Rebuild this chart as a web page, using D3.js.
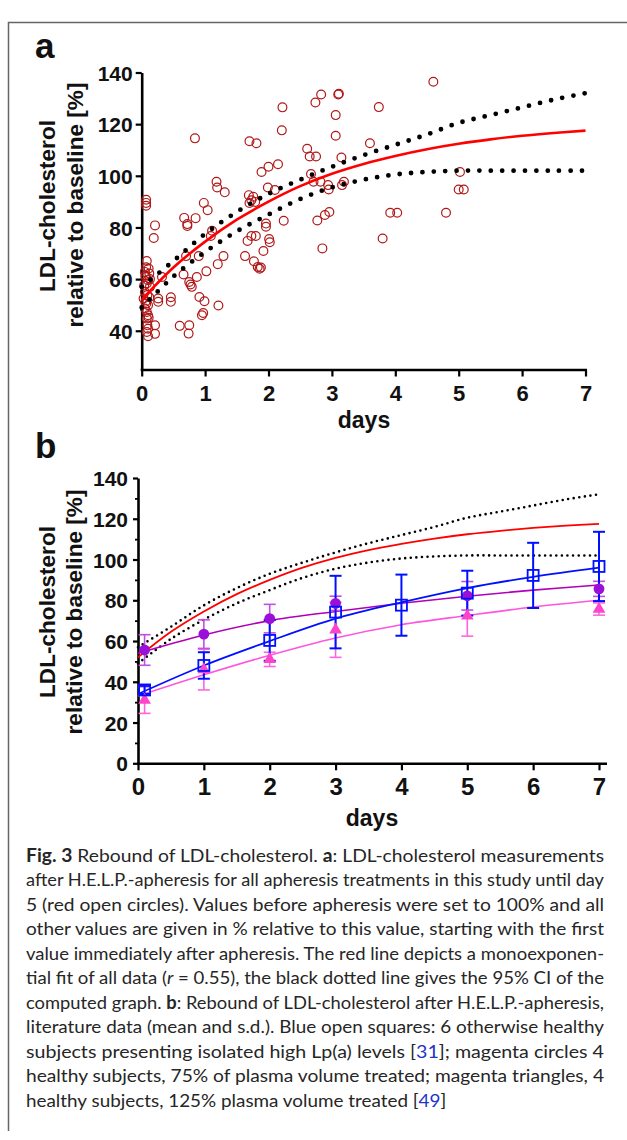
<!DOCTYPE html>
<html><head><meta charset="utf-8">
<script src="https://cdn.jsdelivr.net/npm/d3@7"></script>
<style>body{margin:0;background:#fff}svg{display:block}</style>
</head><body>
<script>
// ---------- DATA ----------
const scatterDays = [0.07,0.07,0.07,0.08,0.07,0.11,0.05,0.12,0.06,0.10,0.08,0.13,0.05,0.09,0.03,0.06,0.10,0.05,0.08,0.10,0.08,0.09,0.10,0.08,0.10,0.04,0.12,0.07,0.11,0.06,0.13,
0.21,0.19,0.21,0.21,0.26,0.26,0.32,0.46,0.46,0.60,0.66,0.70,0.67,0.72,0.72,0.85,0.75,0.77,0.79,0.75,0.74,0.84,0.87,0.90,0.91,0.98,1.04,0.99,0.97,0.95,1.02,1.11,1.09,1.18,1.19,1.31,1.21,1.20,1.29,
1.70,1.81,1.69,1.76,1.79,1.70,1.73,1.67,1.73,1.80,1.63,1.77,1.83,1.86,1.88,1.89,2.00,1.99,2.10,2.15,2.22,2.21,1.96,1.96,2.24,2.01,2.02,1.92,
2.83,2.74,3.10,3.11,3.06,3.06,3.15,2.61,2.65,2.75,2.67,2.71,2.82,2.94,2.95,3.16,3.19,2.77,2.89,2.96,2.85,
4.60,3.74,3.60,3.92,4.03,4.80,3.80,5.02,5.00,5.08];
const scatterValues = [90.7,89.5,88.4,67,64.6,64.1,62.8,62.2,60.8,59.6,58.3,57,55,53.8,52.5,51.2,49.9,48.6,47.3,46,44.7,42.1,40.8,39.5,37.9,57.5,53,50.5,45,61.5,60,
80.8,75.9,42.1,38.8,52.5,51.2,60.8,53,51.2,41.9,61.8,68.9,83.7,81.3,80.6,83.6,58.9,57.9,57,42.1,38.9,114.5,60.8,68.9,53.1,89.5,86.7,51.4,46.9,46,63,78.7,76.7,97.7,95.5,93.6,49.8,65.8,68.9,
113.4,112.6,92.5,91.9,89.9,89.5,90.5,74.8,76.7,76.7,68.9,66.9,64.7,64,64.5,101.5,103.5,95.5,94.5,104.5,126.5,117.6,81.5,80.3,82.6,75.5,74.3,70.9,
131.5,128.4,131.5,131.8,123.5,115.5,107.1,110.5,107.5,107.5,100.7,97.7,97.7,96.4,94.7,96.4,97.7,82.7,84.8,86,71.9,
136.4,126.6,112.6,85.7,85.7,85.7,75.7,101.5,94.7,94.7];

// monoexponential fit and 95% CI
const fitDays  = [0,0.5,1,1.5,2,2.5,3,3.5,4,4.5,5,5.5,6,6.5,7];
const fitRed   = [52,64.5,74.5,83,90,96,100.8,104.6,107.7,110.3,112.4,114.1,115.5,116.6,117.5];
const fitUpper = [57,67,77.5,86,93,98.5,103.5,108,112,116,120.5,123.5,126.5,129.5,132];
const fitLower = [49,61,70.5,78.5,85,91,95.5,98.5,100.5,101.5,102,102,102,102,102];

// panel b literature data
const blueDays = [0.1,1,2,3,4,5,6,7];
const blueMean = [36,48,60.3,74.2,77.6,83.5,92.2,96.6];
const blueSD   = [2,6.5,10,17.8,15,11,16,17];
const circleDays = [0.1,1,2,3,5,7];
const circleMean = [55.6,63.4,71,78.5,82.2,85.6];
const circleSD   = [7.5,7,7,3.5,7,3.7];
const triDays = [0.1,1,2,3,5,7];
const triMean = [31,46,51,65.5,72.4,75.7];
const triSD   = [6.5,10,3.5,13.5,10,3];
const curveDays   = [0,1,2,3,4,5,6,7];
const blueCurve   = [34,48,60,71,79,86,91.5,96];
const circleCurve = [54,63,70,74.5,78.5,82,85,87.5];
const triCurve    = [33,43.4,53,61.5,68,72.5,76.7,80];

const xTicks  = [0,1,2,3,4,5,6,7];
const yTicksA = [40,60,80,100,120,140];
const yTicksB = [0,20,40,60,80,100,120,140];
const yMinorB = [10,30,50,70,90,110,130];

const captionLines = [
  [["Fig. 3","b"],[" Rebound of LDL-cholesterol. "],["a","b"],[": LDL-cholesterol measurements"]],
  [["after H.E.L.P.-apheresis for all apheresis treatments in this study until day"]],
  [["5 (red open circles). Values before apheresis were set to 100% and all"]],
  [["other values are given in % relative to this value, starting with the first"]],
  [["value immediately after apheresis. The red line depicts a monoexponen-"]],
  [["tial fit of all data ("],["r","i"],[" = 0.55), the black dotted line gives the 95% CI of the"]],
  [["computed graph. "],["b","b"],[": Rebound of LDL-cholesterol after H.E.L.P.-apheresis,"]],
  [["literature data (mean and s.d.). Blue open squares: 6 otherwise healthy"]],
  [["subjects presenting isolated high Lp(a) levels ["],["31","l"],["]; magenta circles 4"]],
  [["healthy subjects, 75% of plasma volume treated; magenta triangles, 4"]],
  [["healthy subjects, 125% plasma volume treated ["],["49","l"],["]"]]
];

// ---------- DRAW ----------
const W = 627, H = 1140;
const svg = d3.select("body").append("svg").attr("width", W).attr("height", H);
const FONT = "'Liberation Sans', Arial, Helvetica, sans-serif";

// frame
svg.append("path").attr("d", "M8.5,1131 V22.5 H627").attr("fill","none").attr("stroke","#666").attr("stroke-width",1.5);

function styleAxis(g, fs) {
  g.selectAll("path.domain").attr("stroke","#000").attr("stroke-width",2.6);
  g.selectAll(".tick line").attr("stroke","#000").attr("stroke-width",2.2);
  g.selectAll(".tick text").attr("fill","#111").attr("font-family",FONT).attr("font-weight","bold").attr("font-size",fs);
}
function label(x, y, txt, fs, rot) {
  return svg.append("text").attr("transform",`translate(${x},${y})` + (rot ? " rotate(-90)" : "")).attr("text-anchor","middle")
    .attr("font-family",FONT).attr("font-weight","bold").attr("font-size",fs).attr("fill","#111").text(txt);
}

// ===== Panel a =====
const xa = d3.scaleLinear().domain([0,7]).range([141.7,585.5]);
const ya = d3.scaleLinear().domain([25,140]).range([369.5,72.5]);

svg.append("text").attr("x",35).attr("y",58).text("a").attr("font-family",FONT).attr("font-weight","bold").attr("font-size",35).attr("fill","#111");

const gxa = svg.append("g").attr("transform",`translate(0,${ya(25)})`)
  .call(d3.axisBottom(xa).tickValues(xTicks).tickSize(7).tickSizeOuter(0).tickPadding(9).tickFormat(d3.format("d")));
styleAxis(gxa, 22);
gxa.select("path.domain").attr("d", `M${xa(0)-1},0.5H587`);
const gya = svg.append("g").attr("transform",`translate(${xa(0)},0)`)
  .call(d3.axisLeft(ya).tickValues(yTicksA).tickSize(6).tickSizeOuter(0).tickPadding(3));
styleAxis(gya, 21);
gya.selectAll(".tick text").attr("dy","0.36em");

label(55, 206, "LDL-cholesterol", 22.6, true);
label(83, 205, "relative to baseline [%]", 22.6, true);
label(364, 428, "days", 23, false);

// scatter
svg.append("g").selectAll("circle").data(d3.range(scatterDays.length)).join("circle")
  .attr("cx", i => xa(scatterDays[i])).attr("cy", i => ya(scatterValues[i])).attr("r",4.4)
  .attr("fill","none").attr("stroke","#b01818").attr("stroke-width",1.2);

const lineA = d3.line().curve(d3.curveCatmullRom).x(i => xa(fitDays[i]));
[fitUpper, fitLower].forEach(arr => {
  svg.append("path").attr("d", lineA.y(i => ya(arr[i]))(d3.range(fitDays.length)))
    .attr("fill","none").attr("stroke","#000").attr("stroke-width",4.8).attr("stroke-linecap","round").attr("stroke-dasharray","0 11.4");
});
svg.append("path").attr("d", lineA.y(i => ya(fitRed[i]))(d3.range(fitDays.length)))
  .attr("fill","none").attr("stroke","#ff0000").attr("stroke-width",2.6);

// ===== Panel b =====
const xb = d3.scaleLinear().domain([0,7]).range([138,599]);
const yb = d3.scaleLinear().domain([0,140]).range([763.3,478]);

svg.append("text").attr("x",35).attr("y",458).text("b").attr("font-family",FONT).attr("font-weight","bold").attr("font-size",35).attr("fill","#111");

const gxb = svg.append("g").attr("transform",`translate(0,${yb(0)})`)
  .call(d3.axisBottom(xb).tickValues(xTicks).tickSize(7).tickSizeOuter(0).tickPadding(8).tickFormat(d3.format("d")));
styleAxis(gxb, 24);
gxb.select("path.domain").attr("d", `M${xb(0)-1},0.5H607`);
const gyb = svg.append("g").attr("transform",`translate(${xb(0)},0)`)
  .call(d3.axisLeft(yb).tickValues(yTicksB).tickSize(5).tickSizeOuter(0).tickPadding(5));
styleAxis(gyb, 21);
gyb.selectAll(".tick text").attr("dy","0.36em");
svg.append("g").attr("transform",`translate(${xb(0)},0)`)
  .call(d3.axisLeft(yb).tickValues(yMinorB).tickSize(3).tickSizeOuter(0).tickFormat(""))
  .call(g => { g.select("path.domain").remove(); g.selectAll(".tick line").attr("stroke","#000").attr("stroke-width",1.8); });

label(55, 612, "LDL-cholesterol", 22.6, true);
label(82, 612, "relative to baseline [%]", 22.6, true);
label(372, 826, "days", 23, false);

const lineB = d3.line().curve(d3.curveCatmullRom).x(i => xb(fitDays[i]));
[fitUpper, fitLower].forEach(arr => {
  svg.append("path").attr("d", lineB.y(i => yb(arr[i]))(d3.range(fitDays.length)))
    .attr("fill","none").attr("stroke","#000").attr("stroke-width",2.6).attr("stroke-linecap","round").attr("stroke-dasharray","0 5.6");
});
svg.append("path").attr("d", lineB.y(i => yb(fitRed[i]))(d3.range(fitDays.length)))
  .attr("fill","none").attr("stroke","#ff0000").attr("stroke-width",1.8);

const curveB = (arr) => d3.line().curve(d3.curveCatmullRom).x(i => xb(curveDays[i])).y(i => yb(arr[i]))(d3.range(curveDays.length));
svg.append("path").attr("d", curveB(triCurve)).attr("fill","none").attr("stroke","#ff55dd").attr("stroke-width",1.6);
svg.append("path").attr("d", curveB(circleCurve)).attr("fill","none").attr("stroke","#b000b8").attr("stroke-width",1.6);
svg.append("path").attr("d", curveB(blueCurve)).attr("fill","none").attr("stroke","#0010ff").attr("stroke-width",1.8);

function errBars(days, mean, sd, color, sw) {
  const g = svg.append("g").attr("stroke",color).attr("stroke-width",sw).attr("fill","none");
  days.forEach((d,i) => {
    const x = xb(d), y1 = yb(mean[i]+sd[i]), y2 = yb(mean[i]-sd[i]);
    g.append("line").attr("x1",x).attr("x2",x).attr("y1",y1).attr("y2",y2);
    g.append("line").attr("x1",x-6).attr("x2",x+6).attr("y1",y1).attr("y2",y1);
    g.append("line").attr("x1",x-6).attr("x2",x+6).attr("y1",y2).attr("y2",y2);
  });
}
errBars(triDays, triMean, triSD, "#ff66dd", 1.6);
errBars(circleDays, circleMean, circleSD, "#c050e0", 1.6);
errBars(blueDays, blueMean, blueSD, "#0010ff", 2);

svg.append("g").selectAll("path").data(d3.range(triDays.length)).join("path")
  .attr("d", d3.symbol().type(d3.symbolTriangle).size(70))
  .attr("transform", i => `translate(${xb(triDays[i])},${yb(triMean[i])})`)
  .attr("fill","#ff44cc");
svg.append("g").selectAll("circle").data(d3.range(circleDays.length)).join("circle")
  .attr("cx", i => xb(circleDays[i])).attr("cy", i => yb(circleMean[i])).attr("r",5.4)
  .attr("fill","#9b10d8");
svg.append("g").selectAll("rect").data(d3.range(blueDays.length)).join("rect")
  .attr("x", i => xb(blueDays[i]) - 5.5).attr("y", i => yb(blueMean[i]) - 5.5).attr("width",11).attr("height",11)
  .attr("fill","none").attr("stroke","#0010ff").attr("stroke-width",1.8);

// ===== caption =====
const capX = 26, capRight = 604, capY0 = 862, capDY = 24.45;
const targetW = capRight - capX;
const cap = svg.append("g").attr("font-family","Lato, 'Open Sans', sans-serif").attr("font-size",18).attr("fill","#262626");
const nodes = [], ratios = [];
captionLines.forEach((segs, li) => {
  const t = cap.append("text").attr("x",capX).attr("y",capY0 + li*capDY).attr("xml:space","preserve");
  segs.forEach(s => {
    const ts = t.append("tspan").text(s[0]);
    if (s[1]==="b") ts.attr("font-weight","bold");
    if (s[1]==="i") ts.attr("font-style","italic");
    if (s[1]==="l") ts.attr("fill","#2233cc");
  });
  const w = t.node().getComputedTextLength();
  nodes.push([t, w]);
  if (li < captionLines.length - 1) ratios.push(targetW / w);
});
const avgR = d3.mean(ratios);
nodes.forEach(([t, w], li) => {
  const L = li < captionLines.length - 1 ? targetW : w * avgR;
  t.attr("textLength", L).attr("lengthAdjust", "spacingAndGlyphs");
});
</script>
</body></html>
